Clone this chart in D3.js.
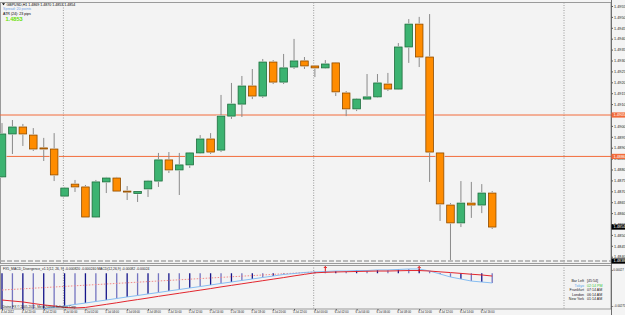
<!DOCTYPE html>
<html>
<head>
<meta charset="utf-8">
<script src="https://cdn.jsdelivr.net/npm/d3@7"></script>
<style>
html, body { margin: 0; padding: 0; background: #f4f4f4; }
svg { display: block; font-family: "Liberation Sans", Arial, sans-serif; }
</style>
</head>
<body>
<svg width="625" height="315"></svg>
<script>
// GBPUSD H1 candles, 4 Jul 18:00 -> 6 Jul 17:00
var open  = [1.48766, 1.48963, 1.48995, 1.48958, 1.48899, 1.48894, 1.48678, 1.48733, 1.48720, 1.48582,
             1.48743, 1.48761, 1.48701, 1.48690, 1.48711, 1.48747, 1.48844, 1.48798, 1.48821, 1.48876,
             1.48940, 1.48889, 1.49045, 1.49100, 1.49183, 1.49137, 1.49293, 1.49201, 1.49270, 1.49298,
             1.49275, 1.49266, 1.49289, 1.49151, 1.49078, 1.49123, 1.49133, 1.49192, 1.49169, 1.49362,
             1.49467, 1.49316, 1.48876, 1.48637, 1.48555, 1.48646, 1.48637, 1.48692];
var high  = [1.49013, 1.49027, 1.49009, 1.48990, 1.48945, 1.48967, 1.48720, 1.48752, 1.48729, 1.48752,
             1.48766, 1.48766, 1.48724, 1.48701, 1.48752, 1.48876, 1.48880, 1.48876, 1.48880, 1.48958,
             1.48967, 1.49142, 1.49197, 1.49229, 1.49261, 1.49307, 1.49302, 1.49330, 1.49399, 1.49316,
             1.49279, 1.49302, 1.49293, 1.49160, 1.49128, 1.49238, 1.49238, 1.49243, 1.49380, 1.49490,
             1.49500, 1.49513, 1.48876, 1.48646, 1.48747, 1.48743, 1.48733, 1.48701];
var low   = [1.48761, 1.48871, 1.48908, 1.48885, 1.48839, 1.48747, 1.48674, 1.48697, 1.48582, 1.48578,
             1.48692, 1.48701, 1.48660, 1.48651, 1.48674, 1.48720, 1.48784, 1.48683, 1.48807, 1.48871,
             1.48871, 1.48880, 1.49032, 1.49041, 1.49123, 1.49128, 1.49192, 1.49192, 1.49261, 1.49261,
             1.49224, 1.49261, 1.49137, 1.49045, 1.49068, 1.49119, 1.49128, 1.49160, 1.49165, 1.49289,
             1.49270, 1.48743, 1.48564, 1.48385, 1.48536, 1.48578, 1.48600, 1.48527];
var close = [1.48963, 1.48995, 1.48963, 1.48894, 1.48894, 1.48775, 1.48715, 1.48720, 1.48582, 1.48743,
             1.48761, 1.48701, 1.48697, 1.48699, 1.48747, 1.48844, 1.48798, 1.48821, 1.48876, 1.48940,
             1.48880, 1.49045, 1.49100, 1.49183, 1.49137, 1.49293, 1.49201, 1.49266, 1.49298, 1.49275,
             1.49266, 1.49284, 1.49156, 1.49078, 1.49123, 1.49133, 1.49197, 1.49169, 1.49362, 1.49467,
             1.49316, 1.48880, 1.48642, 1.48555, 1.48646, 1.48637, 1.48692, 1.48536];

// FX5 MACD divergence indicator
var macd   = [-0.00333, -0.00325, -0.00317, -0.00308, -0.00300, -0.00287, -0.00275, -0.00262, -0.00250, -0.00237,
              -0.00225, -0.00212, -0.00199, -0.00187, -0.00174, -0.00162, -0.00149, -0.00137, -0.00124, -0.00112,
              -0.00099, -0.00086, -0.00074, -0.00061, -0.00049, -0.00036, -0.00024, -0.00011, -0.00003, 0.00006,
               0.00010, 0.00014, 0.00018, 0.00018, 0.00022, 0.00022, 0.00027, 0.00027, 0.00031, 0.00035,
               0.00035, 0.00018, -0.00007, -0.00032, -0.00049, -0.00066, -0.00074, -0.00082];
var signal = [-0.00225, -0.00233, -0.00241, -0.00254, -0.00266, -0.00275, -0.00287, -0.00291, -0.00287, -0.00274,
              -0.00261, -0.00248, -0.00234, -0.00221, -0.00208, -0.00194, -0.00181, -0.00168, -0.00155, -0.00142,
              -0.00129, -0.00115, -0.00102, -0.00089, -0.00076, -0.00063, -0.00050, -0.00037, -0.00023, -0.00010,
               0.00003, 0.00007, 0.00010, 0.00012, 0.00014, 0.00016, 0.00018, 0.00018, 0.00020, 0.00022,
               0.00022, 0.00018, 0.00011, 0.00005, -0.00002, -0.00009, -0.00015, -0.00024];
var divergenceBars = [0, 30];
var divergenceValues = [-0.00141, 0.00010];
var buyArrows = [31, 40];

var levels = [1.4905, 1.4886];
var dashedLevel = 1.4838;
var priceTicks = [1.4955, 1.4950, 1.4945, 1.4940, 1.4935, 1.4930, 1.4925, 1.4920, 1.4915, 1.4910,
                  1.4905, 1.4900, 1.4895, 1.4890, 1.4885, 1.4880, 1.4875, 1.4870, 1.4865, 1.4860,
                  1.4855, 1.4850, 1.4845, 1.4840];
var macdTicks = [0.00027, -0.00275];
var separators = [6, 30, 54];
var xLabels = ["4 Jul 2012", "4 Jul 20:00", "4 Jul 22:00",
               "5 Jul 00:00", "5 Jul 02:00", "5 Jul 04:00", "5 Jul 06:00", "5 Jul 08:00", "5 Jul 10:00",
               "5 Jul 12:00", "5 Jul 14:00", "5 Jul 16:00", "5 Jul 18:00", "5 Jul 20:00", "5 Jul 22:00",
               "6 Jul 00:00", "6 Jul 02:00", "6 Jul 04:00", "6 Jul 06:00", "6 Jul 08:00", "6 Jul 10:00",
               "6 Jul 12:00", "6 Jul 14:00", "6 Jul 16:00"];
var infoNames  = ["Bar Left", "Tokyo", "Frankfurt", "London", "New York"];
var infoValues = ["[45:54]", "02:14 PM", "07:14 AM", "06:14 AM", "01:14 AM"];

var axisX = 611;
var main = {top: 2.5, bottom: 263.5};
var ind = {top: 265.5, bottom: 309};

var x = d3.scaleLinear().domain([0, 47]).range([2, 492.2]);
var y = d3.scaleLinear().domain([1.4955, 1.4840]).range([6, 256.7]);
var yi = d3.scaleLinear().domain([0.0006, -0.0030]).range([266, 309]);
var bw = 7.6;

var candles = open.map((o, i) => ({i, o, h: high[i], l: low[i], c: close[i]}));

(function chart() {
  var svg = d3.select("svg");

  svg.append("rect").attr("width", 625).attr("height", 315).attr("fill", "#f4f4f4");

  var defs = svg.append("defs");
  defs.append("clipPath").attr("id", "clipMain").append("rect")
      .attr("x", 0).attr("y", main.top).attr("width", axisX).attr("height", main.bottom - main.top);
  defs.append("clipPath").attr("id", "clipInd").append("rect")
      .attr("x", 0).attr("y", ind.top).attr("width", axisX).attr("height", ind.bottom - ind.top);

  // panel frames
  svg.append("rect").attr("x", 0.5).attr("y", main.top).attr("width", axisX - 0.5).attr("height", main.bottom - main.top)
      .attr("fill", "#f3f3f3").attr("stroke", "#9a9a9a");
  svg.append("rect").attr("x", 0.5).attr("y", ind.top).attr("width", axisX - 0.5).attr("height", ind.bottom - ind.top)
      .attr("fill", "#f3f3f3").attr("stroke", "#9a9a9a");

  // day separators
  svg.append("g").selectAll("line").data(separators).join("line")
      .attr("x1", d => x(d) - 1.2).attr("x2", d => x(d) - 1.2)
      .attr("y1", main.top).attr("y2", ind.bottom)
      .attr("stroke", "#9a9a9a").attr("stroke-dasharray", "1,1.5");

  var gm = svg.append("g").attr("clip-path", "url(#clipMain)");

  // horizontal levels
  gm.selectAll(".lvl").data(levels).join("line")
      .attr("x1", 0).attr("x2", axisX).attr("y1", d => y(d)).attr("y2", d => y(d))
      .attr("stroke", "#f26b3a").attr("stroke-width", 1);
  gm.append("line")
      .attr("x1", 0).attr("x2", axisX).attr("y1", y(dashedLevel)).attr("y2", y(dashedLevel))
      .attr("stroke", "#a8a8a8").attr("stroke-width", 1.6).attr("stroke-dasharray", "5,2");

  // candles
  var cg = gm.selectAll(".candle").data(candles).join("g");
  cg.append("line")
      .attr("x1", d => x(d.i)).attr("x2", d => x(d.i))
      .attr("y1", d => y(d.h)).attr("y2", d => y(d.l))
      .attr("stroke", "#8a8a8a").attr("stroke-width", 1);
  cg.append("rect")
      .attr("x", d => x(d.i) - bw / 2 - 0.8).attr("width", bw + 1.6)
      .attr("y", d => y(Math.max(d.o, d.c)) - 0.8)
      .attr("height", d => Math.max(1, Math.abs(y(d.o) - y(d.c))) + 1.6)
      .attr("fill", "#ffffff");
  cg.append("rect")
      .attr("x", d => x(d.i) - bw / 2).attr("width", bw)
      .attr("y", d => y(Math.max(d.o, d.c)))
      .attr("height", d => Math.max(1, Math.abs(y(d.o) - y(d.c))))
      .attr("fill", d => d.c >= d.o ? "#3cb371" : "#ff8c00")
      .attr("stroke", d => d.c >= d.o ? "#1f6b3c" : "#8a4a00")
      .attr("stroke-width", 0.8);

  // top-left info
  svg.append("path").attr("d", "M2,3.2 L5,3.2 L3.5,5.2 Z").attr("fill", "#000");
  svg.append("text").attr("x", 6.5).attr("y", 6).attr("font-size", 3.6).attr("fill", "#000")
      .text("GBPUSD,H1 1.4869 1.4870 1.4853 1.4854");
  svg.append("text").attr("x", 3).attr("y", 9.6).attr("font-size", 3.6).attr("fill", "#6f9fe8")
      .text("Spread: 20 points");
  svg.append("text").attr("x", 3).attr("y", 15).attr("font-size", 3.6).attr("fill", "#000")
      .text("ATR (24): 23 pips");
  svg.append("text").attr("x", 5.5).attr("y", 21).attr("font-size", 5.6).attr("font-weight", "bold").attr("fill", "#66e000")
      .text("1.4853");

  // price axis
  svg.append("line").attr("x1", axisX + 0.5).attr("x2", axisX + 0.5).attr("y1", 0).attr("y2", 315)
      .attr("stroke", "#6e6e6e");
  svg.append("g").attr("transform", `translate(${axisX + 0.5},0)`)
      .call(d3.axisRight(y).tickValues(priceTicks).tickFormat(d3.format(".4f")).tickSize(1.5).tickPadding(1))
      .call(g => g.select(".domain").remove())
      .call(g => g.selectAll("line").attr("stroke", "#555"))
      .call(g => g.selectAll("text").attr("font-size", 3.8).attr("font-family", "Liberation Sans, Arial, sans-serif").attr("fill", "#222"));

  function tag(v, yy, bg) {
    svg.append("rect").attr("x", axisX + 0.5).attr("y", yy - 2.6).attr("width", 13.5).attr("height", 5.2).attr("fill", bg);
    svg.append("text").attr("x", axisX + 2.5).attr("y", yy + 1.4).attr("font-size", 3.8).attr("fill", "#fff").text(d3.format(".4f")(v));
  }
  levels.forEach(v => tag(v, y(v), "#f26b3a"));
  tag(close[close.length - 1], y(close[close.length - 1]), "#000");
  tag(dashedLevel, y(dashedLevel), "#000");

  // indicator
  var gi = svg.append("g").attr("clip-path", "url(#clipInd)");
  gi.selectAll(".hist").data(macd).join("line")
      .attr("x1", (d, i) => x(i)).attr("x2", (d, i) => x(i))
      .attr("y1", yi(0)).attr("y2", d => yi(d))
      .attr("stroke", (d, i) => i % 2 ? "#7474c0" : "#14148a").attr("stroke-width", 1.3);
  gi.append("path").datum(divergenceValues)
      .attr("fill", "none").attr("stroke", "#f08a8a").attr("stroke-width", 1).attr("stroke-dasharray", "1.5,1.5")
      .attr("d", d3.line().x((d, i) => x(divergenceBars[i])).y(d => yi(d)));
  gi.append("path").datum(macd)
      .attr("fill", "none").attr("stroke", "#86bdf2").attr("stroke-width", 1)
      .attr("d", d3.line().x((d, i) => x(i)).y(d => yi(d)));
  gi.append("path").datum(signal)
      .attr("fill", "none").attr("stroke", "#e2262e").attr("stroke-width", 1)
      .attr("d", d3.line().x((d, i) => x(i)).y(d => yi(d)));
  gi.selectAll(".arrow").data(buyArrows).join("path")
      .attr("d", d => `M${x(d)},${ind.top + 6} L${x(d)},${ind.top + 1} M${x(d) - 1.5},${ind.top + 2.5} L${x(d)},${ind.top + 1} L${x(d) + 1.5},${ind.top + 2.5}`)
      .attr("stroke", "#e00000").attr("stroke-width", 0.9).attr("fill", "none");

  svg.append("text").attr("x", 3).attr("y", 270).attr("font-size", 3.4).attr("fill", "#222")
      .text("FX5_MACD_Divergence_v1.1(12, 26, 9) -0.000820 -0.000240  MACD(12,26,9) -0.00082 -0.00024");
  svg.append("text").attr("x", 2.5).attr("y", 307.5).attr("font-size", 3.2).attr("fill", "#222")
      .text("Divine FX © 2005-2011, MetaQuotes Software Corp.");

  svg.append("g").attr("transform", `translate(${axisX + 0.5},0)`)
      .call(d3.axisRight(yi).tickValues(macdTicks).tickFormat(d3.format(".5f")).tickSize(1.2).tickPadding(0.6))
      .call(g => g.select(".domain").remove())
      .call(g => g.selectAll("line").attr("stroke", "#555"))
      .call(g => g.selectAll("text").attr("font-size", 2.9).attr("font-family", "Liberation Sans, Arial, sans-serif").attr("fill", "#222"));

  // session clock box
  var info = svg.append("g");
  info.selectAll(".n").data(infoNames).join("text")
      .attr("x", 584).attr("y", (d, i) => 282 + i * 4.6).attr("text-anchor", "end").attr("font-size", 3.6)
      .attr("fill", (d, i) => i === 1 ? "#5aa8e8" : "#222").text(d => d);
  info.selectAll(".v").data(infoValues).join("text")
      .attr("x", 587).attr("y", (d, i) => 282 + i * 4.6).attr("font-size", 3.6)
      .attr("fill", (d, i) => i === 1 ? "#3cc83c" : "#222").text(d => d);

  // time axis
  svg.append("g").attr("transform", `translate(0,${ind.bottom})`)
      .call(d3.axisBottom(x).tickValues(d3.range(0, 48, 2)).tickFormat((d, i) => xLabels[i]).tickSize(1.5).tickPadding(0.5))
      .call(g => g.select(".domain").remove())
      .call(g => g.selectAll("line").attr("stroke", "#555"))
      .call(g => g.selectAll("text").attr("font-size", 2.8).attr("text-anchor", "start").attr("dx", -1.5)
          .attr("font-family", "Liberation Sans, Arial, sans-serif").attr("fill", "#222"));

  return svg.node();
})();
</script>
</body>
</html>
